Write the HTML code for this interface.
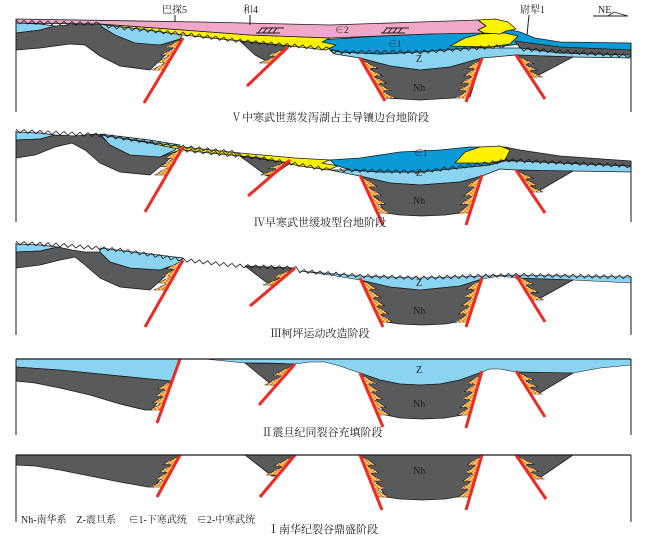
<!DOCTYPE html>
<html><head><meta charset="utf-8"><style>
html,body{margin:0;padding:0;background:#fff;width:655px;height:536px;overflow:hidden}
svg{display:block}
text{font-family:"Liberation Serif","Noto Serif CJK SC",serif;fill:#222}
</style></head><body>
<svg id="s" width="655" height="536" viewBox="0 0 655 536" xmlns="http://www.w3.org/2000/svg">
<defs>
<pattern id="dots" width="4" height="4" patternUnits="userSpaceOnUse">
<rect x="0.5" y="0.5" width="1.2" height="1.6" fill="#fff"/>
<rect x="2.5" y="2.5" width="1.2" height="1.6" fill="#fff"/>
</pattern>
</defs>
</svg>
<script>
const NS='http://www.w3.org/2000/svg',S=document.getElementById('s');
function el(t,a,txt){const e=document.createElementNS(NS,t);for(const k in a)e.setAttribute(k,a[k]);if(txt)e.textContent=txt;S.appendChild(e);return e;}
function pts(p){return p.map(q=>q[0]+','+q[1]).join(' ');}
const C={g:'#595a5c',lb:'#8ad4f2',db:'#0a9ad8',y:'#fff200',p:'#f1a7c8',o:'#f7941d',r:'#ee2a24'};
function poly(p,f,sw){el('polygon',{points:pts(p),fill:f,stroke:'#1a1a1a','stroke-width':sw==null?0.8:sw,'stroke-linejoin':'round'});}
function line(x1,y1,x2,y2,c,w){el('line',{x1,y1,x2,y2,stroke:c||'#1a1a1a','stroke-width':w||1});}
function zz(p,amp,step){amp=amp||1.8;step=step||4;let out=[],k=0;
 for(let i=0;i<p.length-1;i++){const [x1,y1]=p[i],[x2,y2]=p[i+1];const L=Math.hypot(x2-x1,y2-y1),n=Math.max(1,Math.round(L/step));
  const nx=-(y2-y1)/L,ny=(x2-x1)/L;
  for(let j=0;j<n;j++){const t=j/n,s=(k++%2?amp:-amp);out.push([x1+(x2-x1)*t+nx*s,y1+(y2-y1)*t+ny*s]);}}
 out.push(p[p.length-1]);
 el('polyline',{points:pts(out),fill:'none',stroke:'#1a1a1a','stroke-width':0.8});}
function fault(f,yT,yB,dir){const [x1,y1]=f[0],[x2,y2]=f[1];const X=y=>x1+(x2-x1)*(y-y1)/(y2-y1);
 const n=Math.max(2,Math.round((yB-yT)/8));let p=[[X(yT),yT]];
 for(let i=0;i<n;i++){const a=yT+(yB-yT)*i/n,b=yT+(yB-yT)*(i+1)/n;
  p.push([X(a)+dir*4,a+1]);p.push([X(b)+dir*12,b]);p.push([X(b)+dir*5,b]);}
 p.push([X(yB),yB]);
 poly(p,C.o,0.6);el('polygon',{points:pts(p),fill:'url(#dots)'});
}
function fline(f){line(f[0][0],f[0][1],f[1][0],f[1][1],C.r,3);}
function txt(x,y,s,sz,anchor){el('text',{x,y,'font-size':sz||11,'text-anchor':anchor||'start'},s);}
function slash(x,y){line(x+5,y,x+28,y,'#1a1a1a',1);line(x,y+5,x+24,y+5,'#1a1a1a',1);for(let i=0;i<4;i++)line(x+6+i*5,y,x+2+i*5,y+5,'#1a1a1a',1);}

/* ===== Panel V ===== */
poly([[16,23],[40,24],[55,26],[40,30],[16,33]],C.lb);
poly([[16,33],[40,30],[55,26],[80,24],[100,24],[110,30],[130,40],[160,45],[183,38],[150,70],[120,66],[100,56],[85,45],[70,44],[40,48],[16,50]],C.g);
poly([[100,24],[140,28],[183,33],[180,39],[160,45],[135,43],[115,35],[102,27]],C.lb);
poly([[330,50],[340,52],[380,54],[420,52],[470,48],[520,48],[560,53],[631,55],[631,58],[573,57],[516,55],[482,58],[450,67],[420,70],[390,66],[360,58],[335,54]],C.lb);
poly([[320,40],[380,36],[450,33],[480,33],[510,30],[520,32],[535,38],[560,42],[631,43],[631,50],[560,48],[520,44],[505,46],[470,48],[420,52],[380,54],[340,52],[322,47]],C.db);
poly([[515,41],[560,47],[631,50],[631,55],[560,53],[520,48]],C.g);
poly([[100,24],[183,30],[250,35],[330,38],[322,42],[336,45],[326,50],[300,47],[240,41],[183,35],[140,29],[105,25]],C.y);
poly([[450,46],[465,38],[480,34],[505,33],[518,36],[510,44],[490,47]],C.y);
poly([[16,19],[200,22],[330,25],[420,22],[478,20],[486,26],[478,30],[484,33],[430,34],[330,38],[250,35],[183,30],[100,24],[16,23]],C.p);
poly([[478,20],[495,19],[508,22],[516,29],[506,31],[500,34],[484,33],[478,30],[486,26]],C.y);
poly([[240,41],[290,46],[285,50],[270,63],[255,55]],C.g);
poly([[360,58],[390,66],[420,70],[450,67],[482,58],[470,97],[420,100],[385,98]],C.g);
poly([[516,55],[573,57],[535,77],[522,65]],C.g);
zz([[16,22],[100,24]]);zz([[105,26],[183,34],[240,41],[330,49]]);zz([[330,52],[420,52],[505,46]]);zz([[520,49],[631,56]]);
fault([[183,38],[144,103]],40,70,-1);fault([[288,47],[247,86]],49,63,-1);
fault([[360,58],[385,101]],61,98,1);fault([[482,58],[466,102]],61,98,-1);fault([[516,55],[545,99]],57,77,1);
[[[183,38],[144,103]],[[288,47],[247,86]],[[360,58],[385,101]],[[482,58],[466,102]],[[516,55],[545,99]]].forEach(fline);
line(16,19,16,112);line(631,43,631,112);
line(175,15,175,22);line(250,15,250,25);line(529,15,527,35);
txt(162,13,'巴探5',10);txt(243,13,'和4',10);txt(520,13,'尉犁1',10);
txt(598,13,'NE',10);line(593,16,628,16);el('polyline',{points:'608,16 614,12 628,16',fill:'none',stroke:'#1a1a1a','stroke-width':0.8});
slash(256,28);slash(381,28);
txt(335,33,'∈2',9);txt(388,47,'∈1',9);txt(416,62,'Z',10);txt(413,91,'Nh',10);
txt(330,121,'Ⅴ中寒武世蒸发泻湖占主导镶边台地阶段',11,'middle');

/* ===== Panel IV ===== */
poly([[16,132],[40,133],[55,135],[40,139],[16,140]],C.lb);
poly([[16,140],[40,139],[55,135],[75,136],[95,134],[100,135],[110,145],[130,155],[160,157],[180,150],[150,175],[120,172],[100,163],[85,150],[72,143],[55,147],[35,155],[16,158]],C.g);
poly([[100,134],[150,140],[180,145],[175,150],[160,157],[130,155],[110,145]],C.lb);
poly([[330,170],[350,170],[380,172],[420,172],[460,168],[490,165],[505,161],[520,161],[560,163],[631,166],[631,172],[573,171],[545,171],[516,170],[500,169],[482,176],[460,182],[420,185],[390,183],[360,176],[340,172]],C.lb);
poly([[330,160],[360,158],[400,152],[440,150],[470,147],[505,147],[505,160],[490,165],[460,168],[420,172],[380,172],[350,170],[335,165]],C.db);
poly([[505,147],[520,150],[560,156],[631,161],[631,166],[560,163],[520,161],[505,160]],C.g);
poly([[100,135],[183,147],[240,153],[295,158],[330,160],[322,163],[338,166],[328,170],[300,166],[260,158],[240,156],[200,152],[183,150],[150,143],[120,138]],C.y);
poly([[455,163],[465,152],[480,147],[500,146],[510,150],[505,160],[490,163]],C.y);
poly([[240,156],[290,163],[272,176],[267,176]],C.g);
poly([[360,176],[390,183],[420,185],[460,182],[482,176],[468,212],[445,215],[422,216],[400,215],[386,213]],C.g);
poly([[516,170],[573,171],[537,192]],C.g);
zz([[16,131],[100,135],[183,147],[240,153]]);zz([[183,150],[260,158],[330,170]]);zz([[340,170],[420,172],[505,161]]);zz([[505,160],[631,166]]);
const F4=[[[183,147],[145,212]],[[290,160],[248,196]],[[360,175],[383,225]],[[482,175],[466,225]],[[516,170],[545,213]]];
fault(F4[0],150,175,-1);fault(F4[1],162,175,-1);fault(F4[2],178,213,1);fault(F4[3],178,213,-1);fault(F4[4],172,192,1);
F4.forEach(fline);
line(16,131,16,222);line(631,161,631,222);
txt(414,156,'∈1',9);txt(416,176,'Z',10);txt(413,204,'Nh',10);
txt(320,226,'Ⅳ早寒武世缓坡型台地阶段',11,'middle');

/* ===== Panel III ===== */
poly([[16,244],[40,245],[58,247],[40,251],[16,252]],C.lb);
poly([[16,252],[40,251],[58,247],[72,250],[85,252],[100,252],[110,262],[130,268],[160,270],[180,263],[150,290],[120,287],[100,278],[85,265],[75,257],[60,260],[40,265],[16,268]],C.g);
poly([[100,248],[183,258],[180,263],[160,270],[130,268],[110,262],[100,252]],C.lb);
poly([[300,271],[360,276],[420,278],[482,276],[516,275],[573,276],[631,277],[631,283],[573,280],[545,279],[516,278],[500,276],[482,279],[460,286],[420,290],[390,287],[360,280],[330,275]],C.lb,0.6);
poly([[245,266],[295,268],[273,285],[270,285]],C.g);
poly([[360,280],[390,287],[420,290],[460,286],[482,279],[468,320],[445,324],[422,325],[400,324],[386,322]],C.g);
poly([[516,278],[573,280],[537,300]],C.g);
zz([[16,243],[60,245],[120,250],[183,260],[240,266],[295,268],[300,271],[360,276],[420,278],[482,276],[516,275],[573,276],[631,277]]);
const F3=[[[183,260],[145,327]],[[295,268],[250,306]],[[360,278],[383,327]],[[482,278],[466,327]],[[516,275],[545,322]]];
fault(F3[0],262,290,-1);fault(F3[1],270,285,-1);fault(F3[2],281,322,1);fault(F3[3],281,322,-1);fault(F3[4],277,300,1);
F3.forEach(fline);
line(16,243,16,335);line(631,277,631,335);
txt(416,286,'Z',10);txt(413,314,'Nh',10);
txt(320,337,'Ⅲ柯坪运动改造阶段',11,'middle');

/* ===== Panel II ===== */
poly([[16,359],[180,359],[174,376],[172,381],[140,378],[100,374],[60,370],[16,367]],C.lb,0.6);
poly([[16,367],[60,370],[100,374],[140,378],[172,381],[152,410],[145,410],[120,404],[90,395],[60,388],[35,383],[16,381]],C.g);
poly([[205,359],[631,359],[631,365],[600,368],[573,373],[545,373],[516,372],[500,369],[490,369],[482,372],[460,380],[440,384],[420,385],[400,384],[380,380],[360,373],[340,366],[325,362],[310,362],[295,364],[270,363],[245,363],[225,361]],C.lb,0.6);
poly([[245,363],[295,364],[276,385],[272,385]],C.g);
poly([[360,373],[380,380],[400,384],[420,385],[440,384],[460,380],[482,372],[468,414],[445,418],[422,419],[400,418],[386,415]],C.g);
poly([[516,372],[573,373],[538,394]],C.g);
const F2=[[[180,359],[157,423]],[[295,364],[259,405]],[[360,373],[383,427]],[[482,371],[466,428]],[[516,371],[545,417]]];
fault(F2[0],382,410,-1);fault(F2[1],366,385,-1);fault(F2[2],376,415,1);fault(F2[3],376,415,-1);fault(F2[4],373,394,1);
F2.forEach(fline);
line(16,359,631,359,'#1a1a1a',1.2);line(16,359,16,435);line(631,359,631,435);
txt(416,373,'Z',10);txt(413,407,'Nh',10);
txt(322,436,'Ⅱ震旦纪同裂谷充填阶段',11,'middle');

/* ===== Panel I ===== */
poly([[16,455],[180,455],[154,487],[148,487],[120,482],[90,476],[60,470],[35,466],[16,465]],C.g);
poly([[245,455],[295,455],[276,476],[272,476]],C.g);
poly([[360,455],[482,455],[468,495],[445,499],[422,500],[400,499],[386,497]],C.g);
poly([[516,455],[573,455],[538,479]],C.g);
const F1=[[[180,455],[157,497]],[[295,455],[260,497]],[[360,455],[382,510]],[[482,455],[466,510]],[[516,455],[546,499]]];
fault(F1[0],457,487,-1);fault(F1[1],457,475,-1);fault(F1[2],457,497,1);fault(F1[3],457,497,-1);fault(F1[4],457,479,1);
F1.forEach(fline);
line(16,455,631,455,'#1a1a1a',1.2);line(16,455,16,522);line(631,455,631,522);
txt(413,474,'Nh',10);
txt(21,523,'Nh-南华系　Z-震旦系　 ∈1-下寒武统　∈2-中寒武统',10);
txt(323,533,'Ⅰ南华纪裂谷鼎盛阶段',11,'middle');
</script>
</body></html>
